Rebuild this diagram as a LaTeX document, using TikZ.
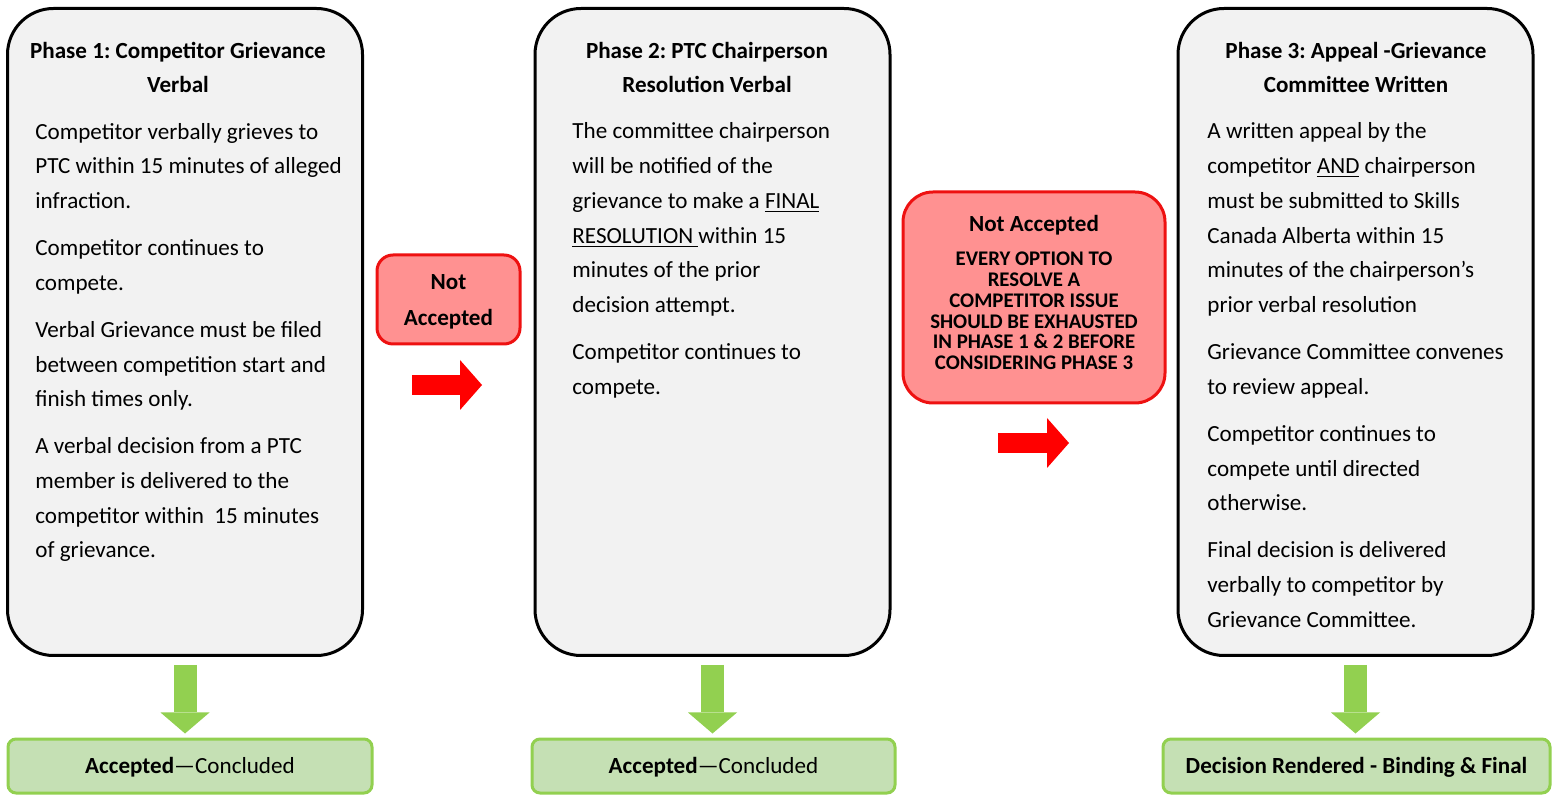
\documentclass[tikz,border=0pt]{standalone}
\usepackage{fontspec}
\setmainfont{Carlito}
\usetikzlibrary{arrows.meta}
\definecolor{phasegray}{HTML}{F2F2F2}
\definecolor{rejectpink}{HTML}{FF9191}
\definecolor{rejectred}{HTML}{EE1111}
\definecolor{arrowred}{HTML}{FF0000}
\definecolor{okgreen}{HTML}{92D050}
\definecolor{okfill}{HTML}{C5E0B4}
\frenchspacing

\begin{document}
\begin{tikzpicture}[x=0.5pt,y=-0.5pt,
        phase/.style={draw=black, line width=1.5pt, fill=phasegray, rounded corners=23pt,
            minimum width=177.5pt, minimum height=323.5pt, inner sep=0pt},
        phasetitle/.style={font=\fontsize{11.55pt}{17.35pt}\selectfont\bfseries,
            align=center, anchor=base, inner sep=0pt},
        phasebody/.style={font=\fontsize{11.55pt}{17.35pt}\selectfont,
            align=left, anchor=base west, inner sep=0pt},
        rejectbox/.style={draw=rejectred, line width=1.5pt, fill=rejectpink, inner sep=0pt},
        okbox/.style={draw=okgreen, line width=1.5pt, fill=okfill, rounded corners=4pt,
            minimum height=27pt, inner sep=0pt, text height=7.4pt, text depth=0pt,
            font=\fontsize{11.55pt}{17.35pt}\selectfont},
        redarrow/.style={draw=arrowred, line width=10pt,
            -{Triangle[width=25pt,length=11pt,line width=0pt]}},
        greenarrow/.style={draw=okgreen, line width=11.5pt,
            -{Triangle[width=24.5pt,length=10.5pt,line width=0pt]},
            shorten <=4pt, shorten >=2pt}]
    \useasboundingbox (0,0) rectangle (1552,795);

    \node[phase] (p1) at (185,332)    {};
    \node[phase] (p2) at (712.5,332)  {};
    \node[phase] (p3) at (1355.5,332) {};

    \node[phasetitle] (t1) at (178,93)  {Phase 1: Competitor Grievance\\Verbal};
    \node[phasetitle] (t2) at (707,93)  {Phase 2: PTC Chairperson\\Resolution Verbal};
    \node[phasetitle] (t3) at (1356,93) {Phase 3: Appeal -Grievance\\Committee Written};

    \node[phasebody] (b1) at (35,558) {Competitor verbally grieves to\\PTC within 15 minutes of alleged\\infraction.\\[6.2pt]%
        Competitor continues to\\compete.\\[6.2pt]%
        Verbal Grievance must be filed\\between competition start and\\finish times only.\\[6.2pt]%
        A verbal decision from a PTC\\member is delivered to the\\competitor within\ \ 15 minutes\\of grievance.};
    \node[phasebody] (b2) at (572,394.3) {The committee chairperson\\will be notified of the\\grievance to make a \underline{FINAL}\\\underline{RESOLUTION\ }within 15\\minutes of the prior\\decision attempt.\\[6.2pt]%
        Competitor continues to\\compete.};
    \node[phasebody] (b3) at (1207,627.3) {A written appeal by the\\competitor \underline{AND} chairperson\\must be submitted to Skills\\Canada Alberta within 15\\minutes of the chairperson's\\prior verbal resolution\\[6.2pt]%
        Grievance Committee convenes\\to review appeal.\\[6.2pt]%
        Competitor continues to\\compete until directed\\otherwise.\\[6.2pt]%
        Final decision is delivered\\verbally to competitor by\\Grievance Committee.};

    \node[rejectbox, rounded corners=8pt, minimum width=71.5pt, minimum height=44.5pt] (na1) at (448.5,299.5) {};
    \node[anchor=base, inner sep=0pt, align=center, font=\fontsize{11.55pt}{18pt}\selectfont\bfseries] (na1text) at (448.5,326)
        {Not\\Accepted};
    \node[rejectbox, rounded corners=15pt, minimum width=131pt, minimum height=105.5pt] (na2) at (1034,297.5) {};
    \node[anchor=base, inner sep=0pt, font=\fontsize{11.55pt}{17.35pt}\selectfont\bfseries] (na2head) at (1034,232) {Not Accepted};
    \node[anchor=base, inner sep=0pt, align=center, font=\fontsize{10.4pt}{10.35pt}\selectfont\bfseries] (na2text) at (1034,369.5)
        {EVERY OPTION TO\\RESOLVE A\\COMPETITOR ISSUE\\SHOULD BE EXHAUSTED\\IN PHASE 1 \& 2 BEFORE\\CONSIDERING PHASE 3};

    \coordinate (r1a) at (412,385);
    \coordinate (r1b) at (482,385);
    \coordinate (r2a) at (998,443);
    \coordinate (r2b) at (1069,443);
    \draw[redarrow] (r1a) -- (r1b);
    \draw[redarrow] (r2a) -- (r2b);

    \node[okbox, minimum width=182pt]   (ok1) at (190,766)    {\textbf{Accepted}---Concluded};
    \node[okbox, minimum width=181.5pt] (ok2) at (713.5,766)  {\textbf{Accepted}---Concluded};
    \node[okbox, minimum width=193.5pt] (ok3) at (1356.5,766) {\textbf{Decision Rendered - Binding \& Final}};

    \draw[greenarrow] (p1.south) -- (p1.south |- ok1.north);
    \draw[greenarrow] (p2.south) -- (p2.south |- ok2.north);
    \draw[greenarrow] (p3.south) -- (p3.south |- ok3.north);
\end{tikzpicture}
\end{document}
